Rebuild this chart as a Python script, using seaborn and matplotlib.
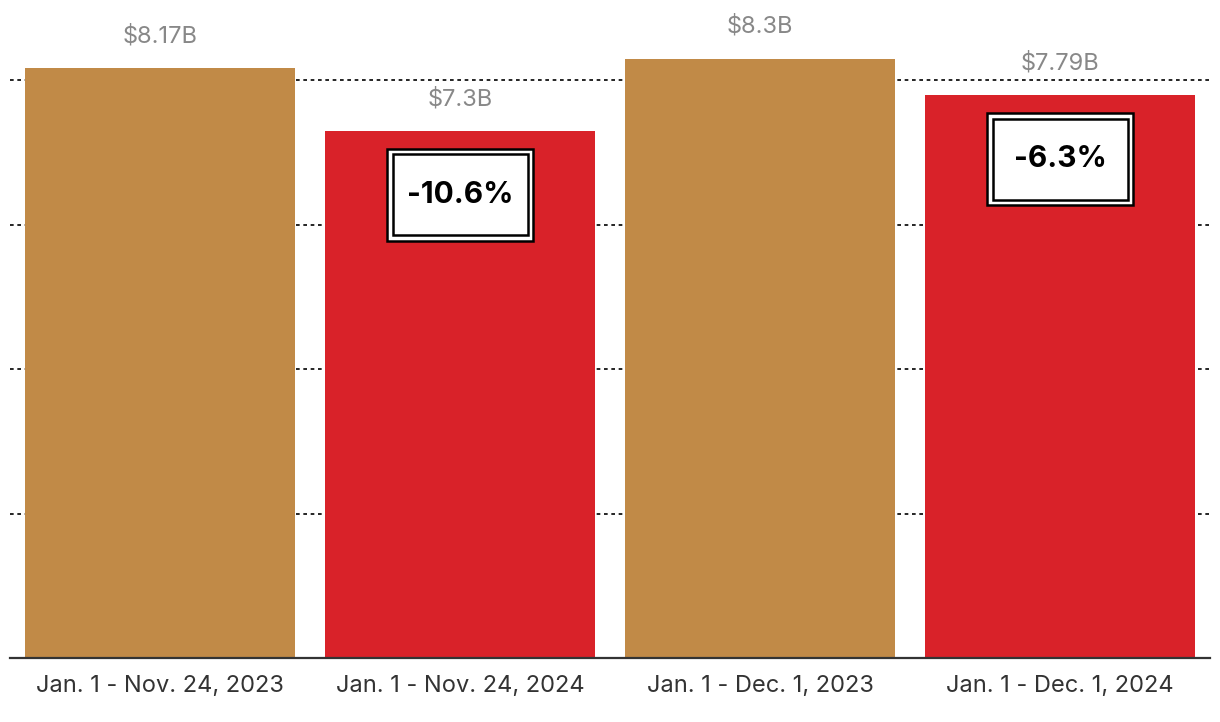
import matplotlib
matplotlib.use("Agg")
import matplotlib.pyplot as plt
import seaborn as sns
import pandas as pd
from matplotlib.patches import Rectangle

categories = ["Jan. 1 - Nov. 24, 2023", "Jan. 1 - Nov. 24, 2024",
              "Jan. 1 - Dec. 1, 2023", "Jan. 1 - Dec. 1, 2024"]
values = [8.17, 7.30, 8.30, 7.79]
value_labels = ["$8.17B", "$7.3B", "$8.3B", "$7.79B"]
changes = [None, "-10.6%", None, "-6.3%"]
colors = ["#C18A47", "#D92229", "#C18A47", "#D92229"]
yticks = [2, 4, 6, 8]

sns.set_theme(style="white")
plt.rcParams['font.family'] = ['Inter', 'DejaVu Sans']

df = pd.DataFrame({"period": categories, "value": values})

fig = plt.figure(figsize=(12.2, 7.22), dpi=100)
ax = fig.add_axes([10/1220, 64/722, 1200/1220, 658/722])

sns.barplot(data=df, x="period", y="value", hue="period",
            palette=colors, width=0.9, saturation=1, legend=False, ax=ax,
            zorder=3, linewidth=0)

ax.set_xlim(-0.5, 3.5)
ax.set_ylim(0, 9.11)
ax.set_yticks(yticks)
ax.set_yticklabels([])
ax.tick_params(axis="y", length=0)
ax.tick_params(axis="x", length=0, pad=12, labelsize=17, labelcolor="#333333")
ax.yaxis.grid(True, color="black", linestyle=(0, (2.2, 2.2)), linewidth=1.2, zorder=0)
ax.xaxis.grid(False)
ax.set_xlabel("")
ax.set_ylabel("")
for s in ["top", "left", "right"]:
    ax.spines[s].set_visible(False)
ax.spines["bottom"].set_color("#333333")
ax.spines["bottom"].set_linewidth(1.6)
ax.spines["bottom"].set_zorder(5)

px_per_unit = 658 / 9.11
for i, (v, lab, ch) in enumerate(zip(values, value_labels, changes)):
    ax.annotate(lab, xy=(i, v), xytext=(0, 23), textcoords="offset points",
                ha="center", va="center", fontsize=17, color="#888888")
    if ch:
        w = 146 / 300
        h = 92 / px_per_unit
        top = v - 18 / px_per_unit
        outer = Rectangle((i - w/2, top - h), w, h, facecolor="white",
                          edgecolor="black", linewidth=1.8, zorder=6)
        ax.add_patch(outer)
        dx = 5.5 / 300
        dy = 5.5 / px_per_unit
        inner = Rectangle((i - w/2 + dx, top - h + dy), w - 2*dx, h - 2*dy,
                          facecolor="white", edgecolor="black", linewidth=1.8, zorder=7)
        ax.add_patch(inner)
        ax.text(i, top - h/2, ch, ha="center", va="center", fontsize=21.5,
                fontweight="bold", color="black", zorder=8)

fig.savefig("out.png", dpi=100)
